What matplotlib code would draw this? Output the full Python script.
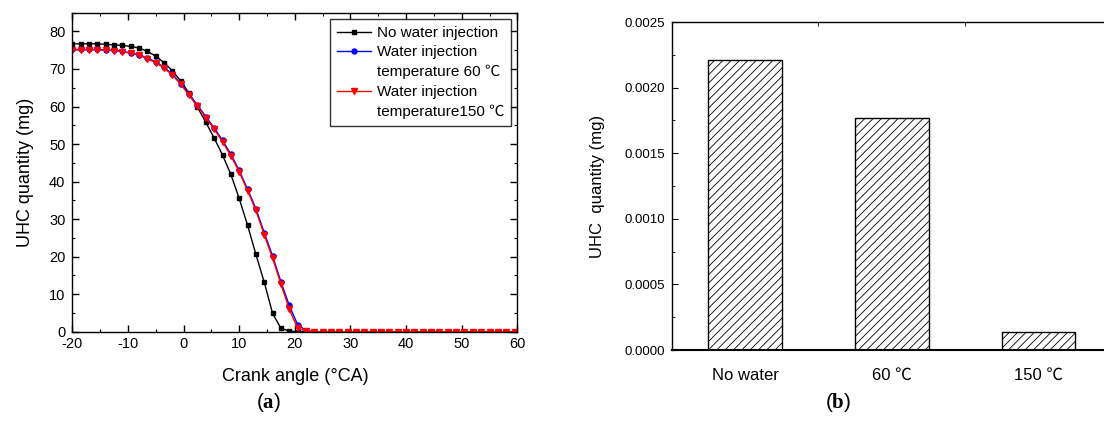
import matplotlib
matplotlib.use("Agg")
import matplotlib.pyplot as plt
from matplotlib.lines import Line2D
from matplotlib.ticker import MultipleLocator, FixedLocator

plt.rcParams['font.family'] = ['Liberation Sans', 'Noto Sans CJK SC', 'DejaVu Sans']
plt.rcParams['mathtext.fontset'] = 'custom'
plt.rcParams['mathtext.rm'] = 'Liberation Serif'
plt.rcParams['mathtext.bf'] = 'Liberation Serif:bold'
plt.rcParams['axes.unicode_minus'] = False
plt.rcParams['hatch.linewidth'] = 0.6

# (a) UHC history over crank angle
crank_angle = [-20, -18.5, -17, -15.5, -14, -12.5, -11, -9.5, -8, -6.5, -5, -3.5, -2, -0.5,
               1, 2.5, 4, 5.5, 7, 8.5, 10, 11.5, 13, 14.5, 16, 17.5, 19, 20.5, 22, 23.5,
               25, 26.5, 28, 29.5, 31, 32.5, 34, 35.5, 37, 38.5, 40, 41.5, 43, 44.5, 46,
               47.5, 49, 50.5, 52, 53.5, 55, 56.5, 58, 59.5]
uhc_no_water = [76.7, 76.7, 76.7, 76.7, 76.6, 76.4, 76.3, 76.0, 75.6, 74.7, 73.4, 71.7, 69.5,
                66.8, 63.5, 59.8, 55.8, 51.6, 47.1, 41.9, 35.5, 28.4, 20.6, 13.2, 4.9, 0.9,
                0.2] + [0.0] * 27
uhc_60 = [75.2, 75.2, 75.2, 75.2, 75.1, 75.0, 74.7, 74.3, 73.8, 72.9, 71.9, 70.4, 68.6, 66.1,
          63.3, 60.4, 57.3, 54.3, 51.0, 47.3, 43.0, 38.0, 32.8, 26.4, 20.2, 13.3, 7.0, 1.9,
          0.3] + [0.0] * 25
uhc_150 = [75.1, 75.1, 75.1, 75.1, 75.0, 74.9, 74.6, 74.2, 73.7, 72.7, 71.7, 70.2, 68.4, 65.9,
           63.0, 60.1, 57.0, 54.0, 50.6, 46.9, 42.6, 37.6, 32.3, 25.8, 19.6, 12.7, 6.0, 0.9,
           0.2] + [0.0] * 25

# (b) total UHC per case
cases = ['No water', '60 ℃', '150 ℃']
uhc_total = [0.00221, 0.00177, 0.00014]

fig = plt.figure(figsize=(11.04, 4.36), dpi=100)

ax1 = fig.add_axes([0.0655, 0.2392, 0.4031, 0.7317])
ax1.plot(crank_angle, uhc_no_water, color='black', lw=1, marker='s', ms=3.2)
ax1.plot(crank_angle, uhc_60, color='blue', lw=1, marker='o', ms=3.6)
ax1.plot(crank_angle, uhc_150, color='red', lw=1, marker='v', ms=4.2)
ax1.set_xlim(-20, 60)
ax1.set_ylim(0, 85)
ax1.xaxis.set_major_locator(MultipleLocator(10))
ax1.xaxis.set_minor_locator(MultipleLocator(5))
ax1.yaxis.set_major_locator(MultipleLocator(10))
ax1.yaxis.set_minor_locator(MultipleLocator(5))
ax1.tick_params(which='both', direction='in', top=True, right=True, labelsize=10.5)
ax1.tick_params(which='major', length=5, width=1)
ax1.tick_params(which='minor', length=2.5, width=0.8)
ax1.tick_params(axis='x', pad=4)
ax1.tick_params(axis='y', pad=5)
for sp in ax1.spines.values():
    sp.set_linewidth(1)
ax1.set_xlabel('Crank angle (°CA)', fontsize=13, labelpad=12)
ax1.set_ylabel('UHC quantity (mg)', fontsize=13, labelpad=11)

# legend rows: handle sits on the first line of each label
blank = Line2D([], [], color='none')
handles = [
    Line2D([], [], color='black', lw=1, marker='s', ms=3.2),
    Line2D([], [], color='blue', lw=1, marker='o', ms=3.6),
    blank,
    Line2D([], [], color='red', lw=1, marker='v', ms=4.2),
    blank,
]
labels = ['No water injection', 'Water injection', 'temperature 60 ℃',
          'Water injection', 'temperature150 ℃']
leg = ax1.legend(handles, labels, loc='upper right', bbox_to_anchor=(0.986, 0.98),
                 fontsize=11, frameon=True, fancybox=False, edgecolor='black',
                 labelspacing=0.36, handlelength=2.2, handletextpad=0.4,
                 borderpad=0.45, borderaxespad=0)
leg.get_frame().set_linewidth(1)

ax2 = fig.add_axes([0.6084, 0.1972, 0.3989, 0.7523])
xpos = [1, 2, 3]
ax2.bar(xpos, uhc_total, width=0.5, color='white', edgecolor='black', lw=1, hatch='////')
ax2.set_xlim(0.5, 3.5)
ax2.set_ylim(0, 0.0025)
ax2.set_xticks(xpos)
ax2.set_xticklabels(cases)
ax2.xaxis.set_minor_locator(FixedLocator([1, 1.5, 2, 2.5, 3, 3.5]))
ax2.yaxis.set_major_locator(MultipleLocator(0.0005))
ax2.yaxis.set_minor_locator(MultipleLocator(0.00025))
ax2.yaxis.set_major_formatter(plt.FormatStrFormatter('%.4f'))
ax2.tick_params(axis='y', which='both', direction='in', labelsize=9.5, pad=5)
ax2.tick_params(axis='y', which='major', length=4)
ax2.tick_params(axis='y', which='minor', length=2.5)
ax2.tick_params(axis='x', which='major', length=0, labelsize=12, pad=13)
ax2.tick_params(axis='x', which='minor', direction='in', bottom=False, top=True, length=3)
ax2.spines['right'].set_visible(False)
ax2.spines['bottom'].set_linewidth(1.5)
ax2.spines['left'].set_linewidth(1)
ax2.spines['top'].set_linewidth(1)
ax2.set_ylabel('UHC  quantity (mg)', fontsize=12, labelpad=14)

fig.text(269 / 1104, 1 - 402 / 436, r'($\mathbf{a}$)', fontsize=15, ha='center', va='center')
fig.text(838 / 1104, 1 - 402 / 436, r'($\mathbf{b}$)', fontsize=15, ha='center', va='center')

fig.savefig('out.png', dpi=100)
